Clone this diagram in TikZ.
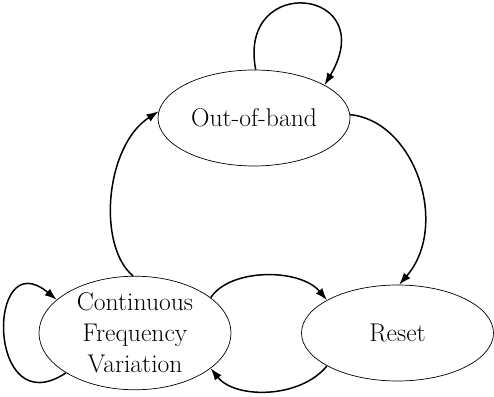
\documentclass[tikz,border=0pt]{standalone}
\usepackage{tikz}
\usetikzlibrary{shapes.geometric,arrows.meta}
\usetikzlibrary{calc}

\tikzset{
	state/.style={ellipse, draw, line width=0.7pt, minimum width=192pt, minimum height=96pt,
		inner sep=0pt, align=center, font=\rmfamily\fontsize{25.6}{31}\selectfont},
	trans/.style={line width=1.5pt, -{Latex[length=12pt,width=8.5pt]}}
}

\begin{document}
\begin{tikzpicture}[x=1pt,y=1pt]
	\useasboundingbox (0,0) rectangle (494,396);
	
	% states
	\node[state] (oob) at (254,278) {Out-of-band};
	\node[state] (cfv) at (135,63) {Continuous\\Frequency\\Variation};
	\node[state] (rst) at (397.5,63) {Reset};
	
	% loop on out-of-band
	\draw[trans] (oob.88) .. controls (237,424) and (382,408) .. (oob.25);
	
	% out-of-band to reset
	\draw[trans] (oob.2) .. controls (415,275) and (450,170) .. (rst.88);
	
	% continuous variation back to out-of-band
	\draw[trans] (cfv.92) .. controls (97,150) and (105,250) .. (oob.176);
	
	% between variation and reset
	\draw[trans] (cfv.25) .. controls (230,128) and (300,128) .. (rst.155);
	\draw[trans] (rst.205) .. controls (300,-3) and (235,-3) .. (cfv.335);
	
	% loop on continuous variation
	\draw[trans] (cfv.210) .. controls (-14,-30) and (-14,155) .. (cfv.157);
\end{tikzpicture}
\end{document}
